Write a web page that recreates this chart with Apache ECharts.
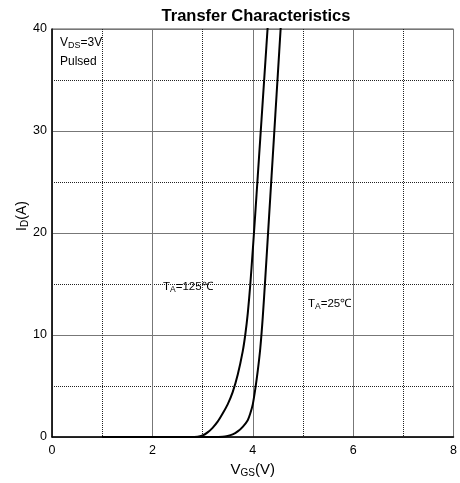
<!DOCTYPE html>
<html><head><meta charset="utf-8">
<script src="https://cdn.jsdelivr.net/npm/echarts@6/dist/echarts.min.js"></script>
<style>html,body{margin:0;padding:0;background:#fff}#c{width:460px;height:483px}</style>
</head><body><div id="c"></div>
<script>
const vgs125 = [1.0, 2.5, 2.9, 3.0, 3.1, 3.2, 3.3, 3.4, 3.5, 3.6, 3.7, 3.8, 3.85, 3.9, 3.95, 4.0, 4.05, 4.1, 4.15, 4.2, 4.25, 4.3];
const id125  = [0, 0, 0.03, 0.15, 0.45, 0.9, 1.5, 2.3, 3.2, 4.4, 6.1, 8.4, 10, 12.1, 14.9, 18.3, 21.9, 25.6, 29.3, 33.0, 36.7, 40.4];
const vgs25 = [1.0, 3.0, 3.4, 3.5, 3.6, 3.7, 3.8, 3.9, 3.95, 4.0, 4.05, 4.1, 4.15, 4.2, 4.25, 4.3, 4.35, 4.4, 4.45, 4.5, 4.56];
const id25  = [0, 0, 0.03, 0.1, 0.25, 0.55, 1.0, 1.65, 2.3, 3.2, 4.7, 6.5, 8.7, 11.8, 15.6, 19.6, 23.6, 27.6, 31.6, 35.6, 40.4];

const pair = (xs, ys) => xs.map((x, i) => [x, ys[i]]);
const FONT = '"Liberation Sans", Arial, sans-serif';
const chart = echarts.init(document.getElementById('c'), null, {renderer: 'canvas'});
const mk = (size, pad) => ({fontSize: size, fontFamily: FONT, color: '#000', padding: pad || 0});
chart.setOption({
  backgroundColor: '#fff',
  animation: false,
  title: {
    text: 'Transfer Characteristics', left: 256, top: 8, padding: 0, textAlign: 'center',
    textStyle: {fontSize: 16.5, fontWeight: 'bold', fontFamily: FONT, color: '#000'}
  },
  grid: {left: 52, right: 1, top: 29, bottom: 46, show: true, borderColor: '#555', borderWidth: 1},
  xAxis: {
    type: 'value', min: 0, max: 8, interval: 2,
    name: '{n|V}{s|GS}{n|(V)}', nameLocation: 'middle', nameGap: 25, nameMoveOverlap: false,
    nameTextStyle: {rich: {n: mk(15), s: mk(10, [6, 0, 0, 0])}},
    axisLine: {show: true, lineStyle: {color: '#000', width: 1.5}},
    axisTick: {show: false},
    axisLabel: {fontSize: 12.5, fontFamily: FONT, color: '#000', margin: 7},
    splitLine: {show: true, lineStyle: {color: '#777', width: 1}},
    minorTick: {show: false, splitNumber: 2},
    minorSplitLine: {show: true, lineStyle: {color: '#222', type: 'dotted', width: 1}}
  },
  yAxis: {
    type: 'value', min: 0, max: 40, interval: 10,
    name: '{n|I}{s|D}{n|(A)}', nameLocation: 'middle', nameGap: 22, nameRotate: 90, nameMoveOverlap: false,
    nameTextStyle: {padding: [0, 0, 0, 34], rich: {n: mk(14), s: mk(10, [6, 0, 0, 0])}},
    axisLine: {show: true, lineStyle: {color: '#000', width: 1.5}},
    axisTick: {show: false},
    axisLabel: {fontSize: 12.5, fontFamily: FONT, color: '#000', margin: 5},
    splitLine: {show: true, lineStyle: {color: '#777', width: 1}},
    minorTick: {show: false, splitNumber: 2},
    minorSplitLine: {show: true, lineStyle: {color: '#222', type: 'dotted', width: 1}}
  },
  series: [
    {name: '125C', type: 'line', data: pair(vgs125, id125), showSymbol: false, smooth: 0.25,
     lineStyle: {color: '#000', width: 2}, z: 5, clip: true},
    {name: '25C', type: 'line', data: pair(vgs25, id25), showSymbol: false, smooth: 0.25,
     lineStyle: {color: '#000', width: 2}, z: 5, clip: true}
  ],
  graphic: [
    {type: 'text', left: 60, top: 37, z: 10, style: {text: '{n|V}{s|DS}{n|=3V}', rich: {n: mk(12), s: mk(9, [5, 0, 0, 0])}}},
    {type: 'text', left: 60, top: 56, z: 10, style: {text: 'Pulsed', font: '12px ' + FONT, fill: '#000'}},
    {type: 'text', left: 163, top: 281, z: 10, style: {text: '{n|T}{s|A}{n|=125℃}', rich: {n: mk(11.5), s: mk(8.5, [5, 0, 0, 0])}}},
    {type: 'text', left: 308, top: 298, z: 10, style: {text: '{n|T}{s|A}{n|=25℃}', rich: {n: mk(11.5), s: mk(8.5, [5, 0, 0, 0])}}}
  ]
});
</script>
</body></html>
